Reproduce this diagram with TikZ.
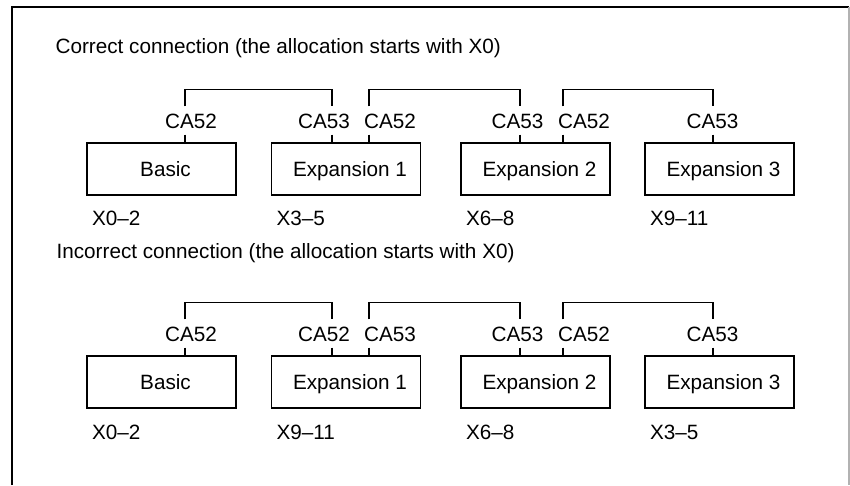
\documentclass[tikz,border=0pt]{standalone}
\usepackage{fontspec}
\setmainfont{Liberation Sans}
\usetikzlibrary{positioning}

\begin{document}
\begin{tikzpicture}[x=1pt,y=-1pt,line width=1.2pt,
  every node/.style={font=\fontsize{20.7}{24}\selectfont},
  unit/.style={draw,minimum width=149pt,minimum height=52pt,inner sep=0pt,
    text height=15pt,text depth=0pt},
  plug/.style={text height=15pt,text depth=0pt,inner sep=6pt},
  textat/.style={anchor=base west,inner sep=0pt}]
\useasboundingbox (0,0) rectangle (850,485);
\draw[line width=2pt] (11.5,485) -- (11.5,7) -- (849,7);
\draw[gray!60,line width=1.5pt] (849,7) -- (849,485);

% titles
\node[textat] (title1) at (55,53) {Correct connection (the allocation starts with X0)};
\node[textat] (title2) at (56,258) {Incorrect connection (the allocation starts with X0)};

% units, both rows
\foreach \r/\dy in {1/0,2/213}
  \foreach \n/\x/\t in {a/161.5/Basic,b/346/Expansion 1,c/535.5/Expansion 2,d/719.5/Expansion 3}
    \node[unit] (\n\r) at (\x,169+\dy) {\hspace*{8pt}\t};

% connectors, correct connection (pin x / text x / name)
\foreach \i/\x/\tx/\l in {1/185/191/CA52,2/332/324/CA53,3/369/390/CA52,
                          4/520/517.5/CA53,5/563/584/CA52,6/713/712.5/CA53} {
  \node[plug] (p1-\i) at (\tx,120.5) {\l};
  \coordinate (c1-\i) at (\x,120.5);
}
% connectors, incorrect connection
\foreach \i/\x/\tx/\l in {1/185/191/CA52,2/332/324/CA52,3/369/390/CA53,
                          4/520/517.5/CA53,5/563/584/CA52,6/713/712.5/CA53} {
  \node[plug] (p2-\i) at (\tx,333.5) {\l};
  \coordinate (c2-\i) at (\x,333.5);
}

% stubs and cables
\foreach \r in {1,2} {
  \foreach \i/\b in {1/a,2/b,3/b,4/c,5/c,6/d}
    \draw (c\r-\i |- p\r-\i.south) -- (c\r-\i |- \b\r.north);
  \foreach \i/\j in {1/2,3/4,5/6}
    \draw (c\r-\i |- p\r-\i.north) -- ++(0,-17) -| (c\r-\j |- p\r-\j.north);
}

% address ranges
\foreach \b/\t in {a/X0–2,b/X3–5,c/X6–8,d/X9–11}
  \node[textat] (x1\b) at ([xshift=5pt,yshift=-30pt]\b1.south west) {\t};
\foreach \b/\t in {a/X0–2,b/X9–11,c/X6–8,d/X3–5}
  \node[textat] (x2\b) at ([xshift=5pt,yshift=-31pt]\b2.south west) {\t};
\end{tikzpicture}
\end{document}
